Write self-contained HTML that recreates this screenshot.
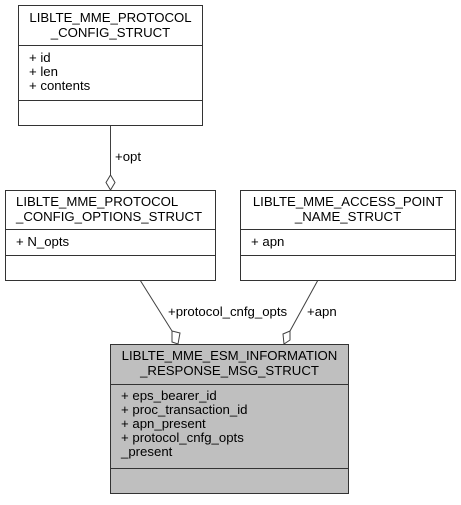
<!DOCTYPE html>
<html><head><meta charset="utf-8"><style>html,body{margin:0;padding:0;background:#fff}</style></head><body>
<svg width="461" height="500" xmlns="http://www.w3.org/2000/svg" font-family="Liberation Sans, sans-serif" font-size="13.2">
<rect width="461" height="500" fill="#fff"/>
<g stroke="#404040" fill="none" stroke-width="1">
<line x1="110.5" y1="126" x2="110.5" y2="175"/>
<polygon points="110.5,175 115,182.5 110.5,190 106,182.5" fill="#fff"/>
<line x1="140" y1="280" x2="172" y2="331"/>
<polygon points="172,331 180,333 178,344 172,342" fill="#fff"/>
<line x1="318" y1="280" x2="290" y2="331"/>
<polygon points="290,331 290,340 284,344 283,334" fill="#fff"/>
</g>
<g stroke="#333" stroke-width="1" fill="#fff">
<rect x="18.5" y="5.5" width="184" height="120"/>
<line x1="18.5" y1="45.5" x2="202.5" y2="45.5"/>
<line x1="18.5" y1="100.5" x2="202.5" y2="100.5"/>
<rect x="5.5" y="190.5" width="210" height="90"/>
<line x1="5.5" y1="229.5" x2="215.5" y2="229.5"/>
<line x1="5.5" y1="255.5" x2="215.5" y2="255.5"/>
<rect x="240.5" y="190.5" width="215" height="90"/>
<line x1="240.5" y1="229.5" x2="455.5" y2="229.5"/>
<line x1="240.5" y1="255.5" x2="455.5" y2="255.5"/>
<rect x="110.5" y="344.5" width="238" height="149" fill="#bfbfbf"/>
<line x1="110.5" y1="384.5" x2="348.5" y2="384.5"/>
<line x1="110.5" y1="468.5" x2="348.5" y2="468.5"/>
</g>
<g fill="#000">
<text x="110.5" y="22" text-anchor="middle">LIBLTE_MME_PROTOCOL</text>
<text x="110.5" y="37" text-anchor="middle">_CONFIG_STRUCT</text>
<text x="29" y="62">+ id</text>
<text x="29" y="76">+ len</text>
<text x="29" y="90">+ contents</text>
<text x="16" y="206">LIBLTE_MME_PROTOCOL</text>
<text x="16" y="221">_CONFIG_OPTIONS_STRUCT</text>
<text x="16" y="246">+ N_opts</text>
<text x="348" y="206" text-anchor="middle">LIBLTE_MME_ACCESS_POINT</text>
<text x="348" y="221" text-anchor="middle">_NAME_STRUCT</text>
<text x="251" y="246">+ apn</text>
<text x="229.5" y="360" text-anchor="middle">LIBLTE_MME_ESM_INFORMATION</text>
<text x="229.5" y="375" text-anchor="middle">_RESPONSE_MSG_STRUCT</text>
<text x="121" y="400">+ eps_bearer_id</text>
<text x="121" y="414">+ proc_transaction_id</text>
<text x="121" y="428">+ apn_present</text>
<text x="121" y="442">+ protocol_cnfg_opts</text>
<text x="121" y="456">_present</text>
<text x="115" y="161">+opt</text>
<text x="168" y="316">+protocol_cnfg_opts</text>
<text x="307" y="316">+apn</text>
</g>
</svg>
</body></html>
